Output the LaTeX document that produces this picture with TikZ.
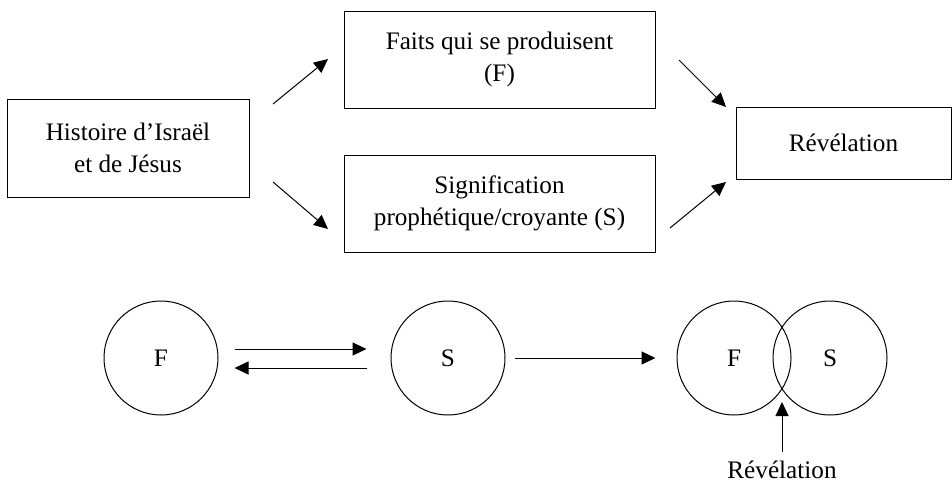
\documentclass[tikz,border=0pt]{standalone}
\usepackage{fontspec}
\setmainfont{Liberation Serif}
\usetikzlibrary{arrows.meta, positioning, calc}

\begin{document}
\begin{tikzpicture}[
    x=0.5pt, y=-0.5pt,
    line width=0.5pt,
    font=\fontsize{12.6}{16}\selectfont,
    >={Triangle[length=7pt, width=6.5pt]}, % filled heads
    box/.style={draw, align=center, inner sep=0pt},
    ring/.style={draw, circle, minimum size=57pt, inner sep=0pt},
    arrow/.style={->}
]

    % === Frame ===
    \useasboundingbox (0,0) rectangle (952,482);

    % === Upper part: boxes ===
    \node[box, minimum width=121pt, minimum height=49pt] (hist) at (128,148)
        {Histoire d'Israël\\et de Jésus};
    \node[box, minimum width=155.5pt, minimum height=48.5pt] (faits) at (499.5,59.5)
        {Faits qui se produisent\\(F)};
    \node[box, minimum width=155.5pt, minimum height=48.5pt] (signif) at (499.5,203.5)
        {Signification\\prophétique/croyante (S)};
    \node[box, minimum width=107.5pt, minimum height=36pt] (revel) at (843.5,143)
        {Révélation};

    % arrow ends (they stop short of the boxes)
    \coordinate (hf0) at (273,104);  \coordinate (hf1) at (328,59);
    \coordinate (hs0) at (273,182);  \coordinate (hs1) at (328,229);
    \coordinate (fr0) at (679,60);   \coordinate (fr1) at (726,107);
    \coordinate (sr0) at (670,228);  \coordinate (sr1) at (726,182);

    \draw[arrow] (hf0) -- (hf1);
    \draw[arrow] (hs0) -- (hs1);
    \draw[arrow] (fr0) -- (fr1);
    \draw[arrow] (sr0) -- (sr1);

    % === Lower part: circles ===
    \node[ring] (fA) at (161,358) {F};
    \node[ring] (sA) at (448,358) {S};
    \node[ring] (fB) at (734,358) {F};
    \node[ring] (sB) at (830,358) {S};

    % F <-> S
    \draw[arrow] ($(fA.east)+(16,-9)$) -- ($(sA.west)+(-24,-9)$);
    \draw[arrow] ($(sA.west)+(-24,10)$) -- ($(fA.east)+(16,10)$);

    % towards the overlap
    \draw[arrow] ($(sA.east)+(9,0)$) -- ($(fB.west)+(-21,0)$);

    % overlap label
    \node (revlab) at (782,470) {Révélation};
    \coordinate (tip) at (782,402);
    \draw[arrow] (revlab.north) ++(0,-2) -- (tip);

\end{tikzpicture}
\end{document}
